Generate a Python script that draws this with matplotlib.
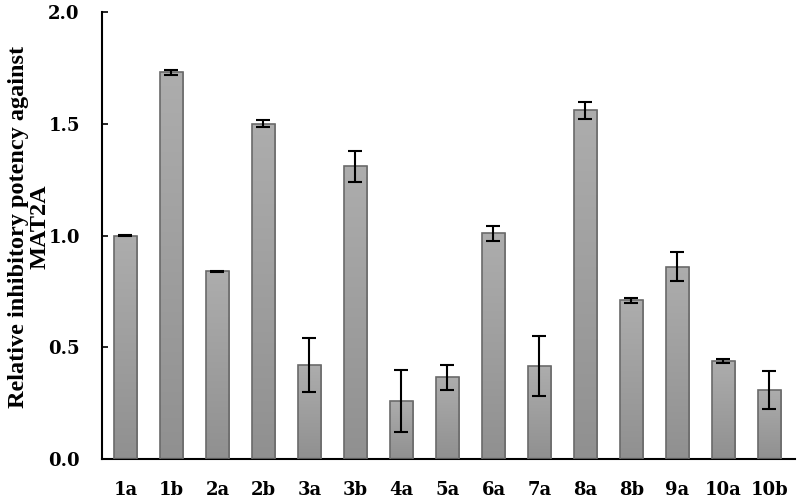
import matplotlib
matplotlib.use('Agg')
import matplotlib.pyplot as plt
import numpy as np

compounds = ['1a', '1b', '2a', '2b', '3a', '3b', '4a', '5a',
             '6a', '7a', '8a', '8b', '9a', '10a', '10b']
potency = [1.00, 1.73, 0.84, 1.50, 0.42, 1.31, 0.26, 0.365,
           1.01, 0.415, 1.56, 0.71, 0.86, 0.44, 0.31]
errors = [0.002, 0.01, 0.003, 0.015, 0.12, 0.07, 0.14, 0.055,
          0.033, 0.135, 0.038, 0.01, 0.065, 0.008, 0.085]
y_ticks = [0.0, 0.5, 1.0, 1.5, 2.0]

plt.rcParams['font.family'] = 'DejaVu Serif'
plt.rcParams['font.weight'] = 'bold'

fig = plt.figure(figsize=(8, 4.99), dpi=100)
ax = fig.add_axes([0.1275, 0.080, 0.866, 0.896])

x = np.arange(len(compounds))
bars = ax.bar(x, potency, width=0.5, facecolor='none', edgecolor='#6a6a6a',
              linewidth=1.2, zorder=3)

# vertical grey gradient inside each bar, lighter at the top
grad = np.linspace(0, 1, 256).reshape(-1, 1)
cmap = matplotlib.colors.LinearSegmentedColormap.from_list('g', ['#909090', '#adadad'])
for b in bars:
    x0, w, h = b.get_x(), b.get_width(), b.get_height()
    im = ax.imshow(grad, cmap=cmap, origin='lower', aspect='auto',
                   extent=[x0, x0 + w, 0, h], zorder=2)
    im.set_clip_path(b)

ax.errorbar(x, potency, yerr=errors, fmt='none', ecolor='black',
            elinewidth=1.5, capsize=5, capthick=1.5, zorder=4)

ax.set_xlim(-0.51, 14.55)
ax.set_ylim(0, 2.0)
ax.set_xticks(x)
ax.set_xticklabels(compounds)
ax.set_yticks(y_ticks)
ax.set_yticklabels(['%.1f' % v for v in y_ticks])
ax.tick_params(axis='x', length=0, pad=16, labelsize=13)
ax.tick_params(axis='y', direction='in', length=4.5, width=1.2, pad=16, labelsize=13)

for s in ['top', 'right']:
    ax.spines[s].set_visible(False)
for s in ['left', 'bottom']:
    ax.spines[s].set_linewidth(1.5)

ax.set_ylabel('Relative inhibitory potency against\nMAT2A', fontsize=17.5,
              family='Liberation Serif', fontweight='bold', linespacing=1.0)
ax.yaxis.set_label_coords(-0.075, 0.52)

fig.savefig('out.png', dpi=100)
